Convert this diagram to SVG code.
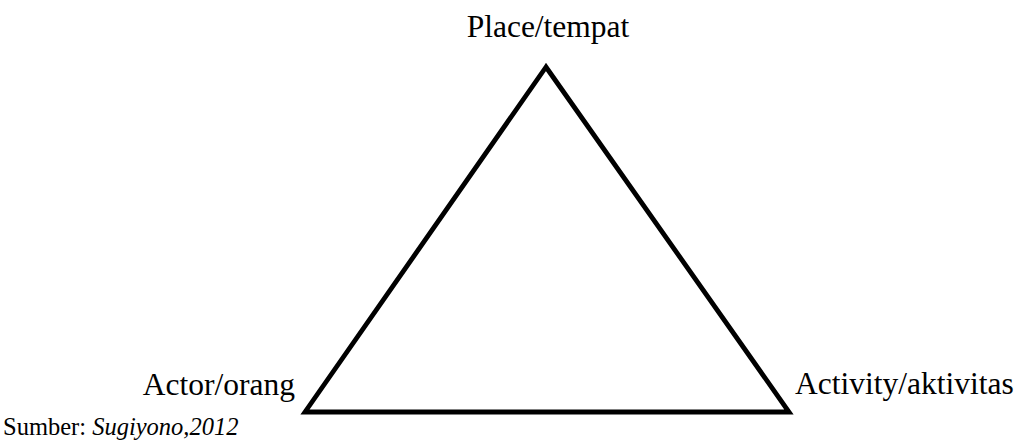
<svg xmlns="http://www.w3.org/2000/svg" width="1020" height="448" viewBox="0 0 1020 448">
<style>
text{font-family:'Liberation Serif','Times New Roman',Times,serif;fill:#000}
.big{font-size:31.5px}
.src{font-size:24.5px}
.edge{fill:none;stroke:#000;stroke-width:4.8;stroke-linejoin:miter}
</style>
<rect width="1020" height="448" fill="#fff"/>
<g id="connectors">
<polygon class="edge" points="546,67 305,412 789,412"/>
</g>
<g id="place"><text class="big" x="548" y="37" text-anchor="middle">Place/tempat</text></g>
<g id="actor"><text class="big" x="295" y="395" text-anchor="end">Actor/orang</text></g>
<g id="activity"><text class="big" x="795" y="394">Activity/aktivitas</text></g>
<g id="source"><text class="src" x="3" y="435">Sumber: <tspan font-style="italic">Sugiyono,2012</tspan></text></g>
</svg>
